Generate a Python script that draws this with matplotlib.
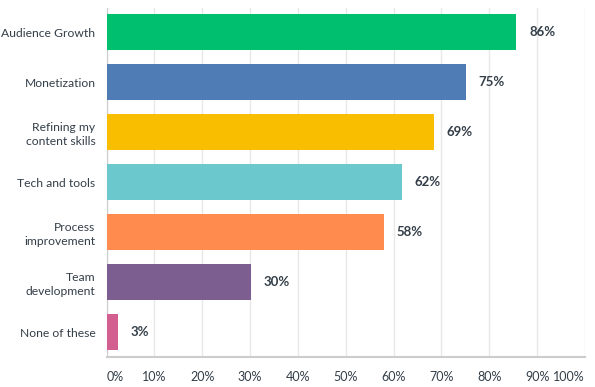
import matplotlib.pyplot as plt
import numpy as np

categories = ["Audience Growth", "Monetization", "Refining my\ncontent skills",
              "Tech and tools", "Process\nimprovement", "Team\ndevelopment",
              "None of these"]
values = [85.6, 75.1, 68.4, 61.7, 57.9, 30.2, 2.3]
value_labels = ["86%", "75%", "69%", "62%", "58%", "30%", "3%"]
colors = ["#00BF6F", "#507CB6", "#F9BE00", "#6BC8CD", "#FF8B4F", "#7D5E90", "#D25F90"]
ticks = np.arange(0, 101, 10)

plt.rcParams['font.family'] = ['Lato', 'DejaVu Sans']
text_color = "#333E48"

fig = plt.figure(figsize=(5.95, 3.87), dpi=100)
ax = fig.add_axes([106.5 / 595, 1 - 356.7 / 387, (585 - 106.5) / 595, (356.7 - 8) / 387])

y = np.arange(len(categories))
ax.barh(y, values, height=0.72, color=colors, zorder=3)

for yi, v, lab in zip(y, values, value_labels):
    ax.text(v + 2.7, yi, lab, va="center", ha="left", fontsize=9.5,
            fontweight="bold", color=text_color)

ax.set_xlim(0, 100)
ax.set_ylim(len(categories) - 0.51, -0.49)
ax.set_xticks(ticks)
ax.set_xticklabels([f"{t}%" for t in ticks])
xlabels = ax.get_xticklabels()
xlabels[0].set_ha("left")
xlabels[-1].set_ha("right")
ax.set_yticks(y)
ax.set_yticklabels(categories, linespacing=1.3)
ax.tick_params(axis="both", length=0, labelcolor=text_color)
ax.tick_params(axis="y", pad=8, labelsize=8.7)
ax.tick_params(axis="x", pad=10, labelsize=9)
ax.grid(axis="x", color="#E8E8E8", linewidth=1, zorder=0)

for s in ["top", "right"]:
    ax.spines[s].set_visible(False)
ax.spines["left"].set_color("#CCCCCC")
ax.spines["bottom"].set_color("#CCCCCC")
ax.spines["bottom"].set_linewidth(1.5)

fig.savefig("out.png", dpi=100)
